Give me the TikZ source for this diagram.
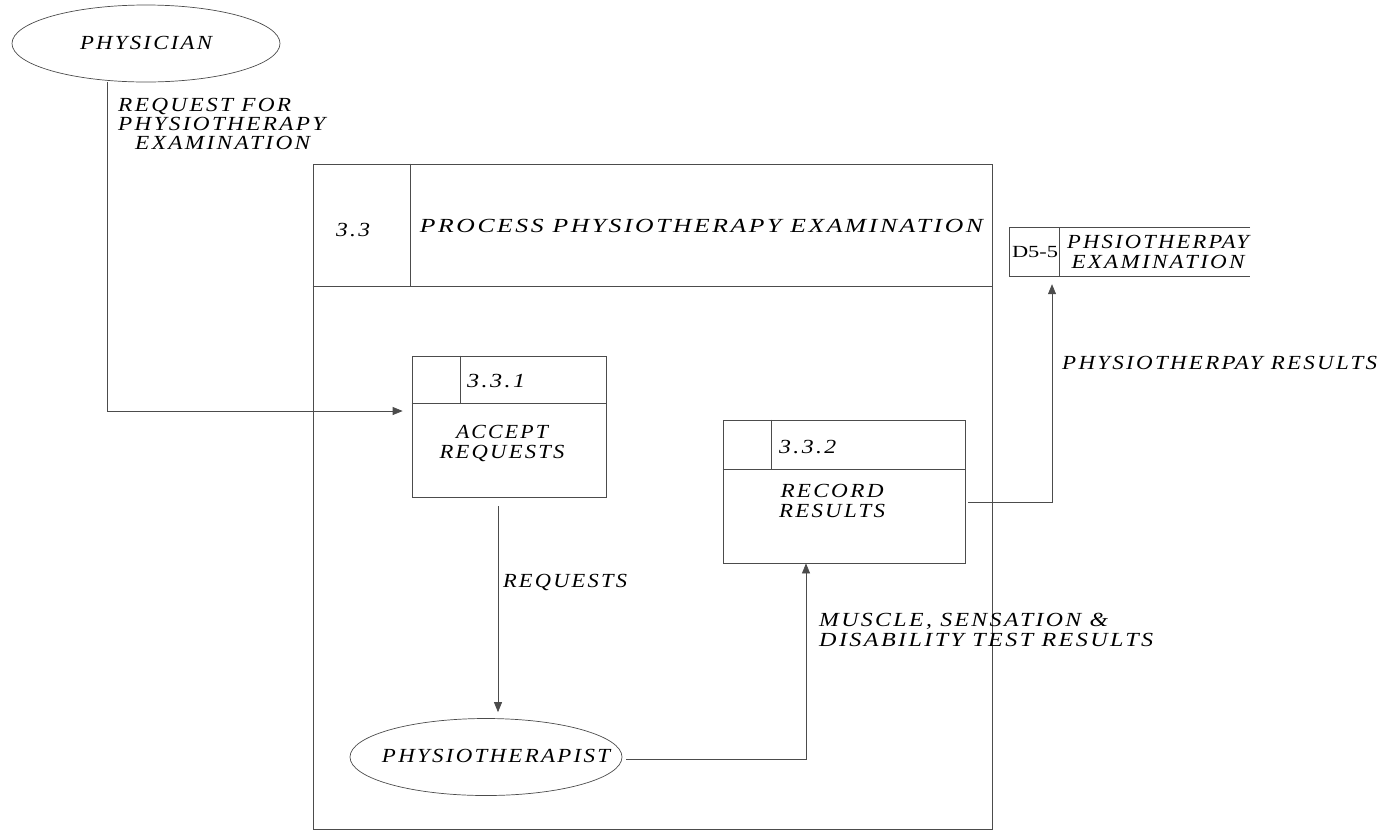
\documentclass[tikz,border=0pt]{standalone}
\usepackage{fontspec}
\usepackage{graphicx}
\setmainfont{Liberation Serif}
\newfontfamily\dfdfont[LetterSpace=10]{Liberation Serif}
\usetikzlibrary{arrows.meta,shapes.geometric}
\newcommand\fw[2]{\resizebox{#1pt}{\height}{#2}}
\tikzset{
  ln/.style={draw=black!70, line width=0.7pt},
  arr/.style={ln, -{Triangle[length=10pt,width=8pt]}},
  txt/.style={inner sep=0pt, font=\dfdfont\itshape\fontsize{20}{20}\selectfont, text=black},
  term/.style={ellipse, ln, inner sep=0pt},
  proc/.style={rectangle, ln, inner sep=0pt},
}
\begin{document}
\begin{tikzpicture}[x=1pt,y=-1pt]
\useasboundingbox (0,0) rectangle (1386,831);

% external entity
\node[term, minimum width=268pt, minimum height=77pt] (physician) at (146,43.5) {};
\node[txt] (physiciant) at (146,43) {\fw{132}{PHYSICIAN}};

% parent process 3.3
\node[proc, minimum width=679pt, minimum height=665pt] (p33) at (652.5,496.5) {};
\coordinate (h33) at (410,286);
\draw[ln] (p33.west |- h33) -- (p33.east |- h33);
\draw[ln] (p33.north -| h33) -- (h33);
\node[txt] (n33) at (353,230) {\fw{34}{3.3}};
\node[txt] (t33) at (701.5,226) {\fw{563}{PROCESS PHYSIOTHERAPY EXAMINATION}};

% process 3.3.1
\node[proc, minimum width=194pt, minimum height=141pt] (p331) at (509,426.5) {};
\coordinate (h331) at (460,403);
\draw[ln] (p331.west |- h331) -- (p331.east |- h331);
\draw[ln] (p331.north -| h331) -- (h331);
\node[txt, anchor=west] (n331) at (467,381) {\fw{58}{3.3.1}};
\node[txt, align=center] (t331) at (502,443) {\fw{92}{ACCEPT}\\\fw{125}{REQUESTS}};

% process 3.3.2
\node[proc, minimum width=242pt, minimum height=143pt] (p332) at (844,491.5) {};
\coordinate (h332) at (771,469);
\draw[ln] (p332.west |- h332) -- (p332.east |- h332);
\draw[ln] (p332.north -| h332) -- (h332);
\node[txt, anchor=west] (n332) at (779,447) {\fw{57}{3.3.2}};
\node[txt, align=center] (t332) at (832,501) {\fw{103}{RECORD}\\\fw{106}{RESULTS}};

% physiotherapist
\node[term, minimum width=272pt, minimum height=77pt] (pt) at (486,757) {};
\node[txt] (ptt) at (496,756) {\fw{228}{PHYSIOTHERAPIST}};

% data store
\node[inner sep=0pt, minimum width=240pt, minimum height=48pt] (store) at (1130,252) {};
\draw[ln] (store.north east) -- (store.north west) -- (store.south west) -- (store.south east);
\coordinate (hs) at (1059,252);
\draw[ln] (store.north -| hs) -- (store.south -| hs);
\node[inner sep=0pt, font=\fontsize{17}{18}\selectfont, text=black] (sid) at (1035,252) {\fw{46}{D5-5}};
\node[txt, align=center] (sname) at (1158,252) {\fw{182}{PHSIOTHERPAY}\\\fw{173}{EXAMINATION}};

% connectors
\coordinate (c1) at (107,411);
\draw[arr, shorten >=9pt] (physician.south -| c1) -- (c1) -- (p331.west |- c1);
\node[txt, align=left, anchor=north west, font=\dfdfont\itshape\fontsize{20}{19}\selectfont] (lreq) at (118,98)
  {\fw{173}{REQUEST FOR}\\\fw{207}{PHYSIOTHERAPY}\\\hspace*{17pt}\fw{175}{EXAMINATION}};

\coordinate (c2) at (498,0);
\draw[arr, shorten <=9pt, shorten >=6pt] (p331.south -| c2) -- (pt.north -| c2);
\node[txt] (lrq) at (565,582) {\fw{124}{REQUESTS}};

\coordinate (c3) at (806,759);
\draw[arr, shorten <=4pt] (pt.east |- c3) -- (c3) -- (p332.south -| c3);
\node[txt, align=left, anchor=west] (lmus) at (819,630)
  {\fw{289}{MUSCLE, SENSATION \&}\\\fw{334}{DISABILITY TEST RESULTS}};

\coordinate (c4) at (1052,502);
\draw[arr, shorten <=3pt, shorten >=8pt] (p332.east |- c4) -- (c4) -- (store.south -| c4);
\node[txt, anchor=west] (lres) at (1062,363) {\fw{315}{PHYSIOTHERPAY RESULTS}};
\end{tikzpicture}
\end{document}
